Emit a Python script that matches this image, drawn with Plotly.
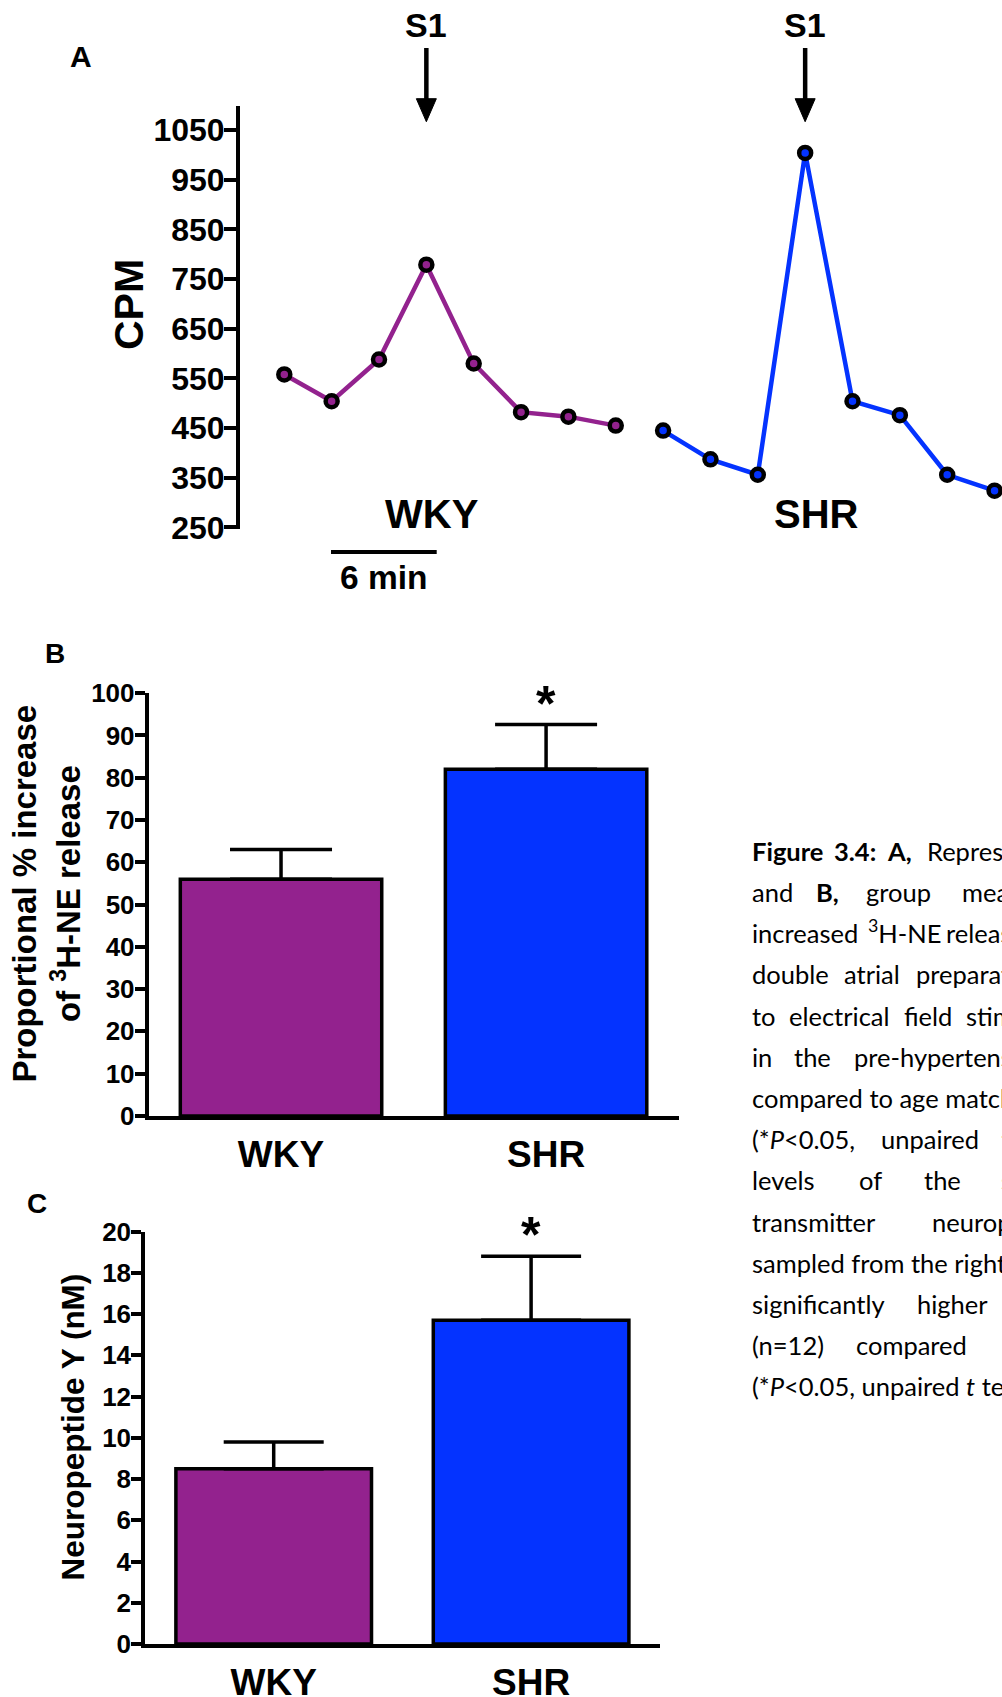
import plotly.graph_objects as go

W, H = 1002, 1697


def px(x):
    return x / W


def py(y):
    return 1 - y / H


# ---------------- data ----------------
# Panel A: representative CPM traces (sample index along time)
a_wky_idx = [0, 1, 2, 3, 4, 5, 6, 7]
a_wky_cpm = [558, 504, 588, 779, 580, 482, 473, 455]
a_shr_idx = [8, 9, 10, 11, 12, 13, 14, 15]
a_shr_cpm = [445, 387, 356, 1004, 504, 476, 356, 324]
a_s1_idx = [3, 11]
a_ticks = [250, 350, 450, 550, 650, 750, 850, 950, 1050]

groups = ["WKY", "SHR"]
# Panel B: proportional % increase of 3H-NE release (mean, SEM)
b_mean = [56, 82]
b_sem = [7, 10.6]
b_ticks = [0, 10, 20, 30, 40, 50, 60, 70, 80, 90, 100]
# Panel C: neuropeptide Y (nM) (mean, SEM)
c_mean = [8.5, 15.7]
c_sem = [1.3, 3.1]
c_ticks = [0, 2, 4, 6, 8, 10, 12, 14, 16, 18, 20]

colors = ["#93228E", "#0433FF"]
FONT = "Liberation Sans, Arial, sans-serif"
CAPFONT = "Lato, Calibri, sans-serif"

fig = go.Figure()

# ---------------- panel A ----------------
for idx, cpm, col in [(a_wky_idx, a_wky_cpm, colors[0]), (a_shr_idx, a_shr_cpm, colors[1])]:
    fig.add_trace(go.Scatter(
        x=idx, y=cpm, mode="lines+markers",
        line=dict(color=col, width=4.5),
        marker=dict(size=12, color=col, line=dict(color="black", width=4.5)),
        xaxis="x", yaxis="y", showlegend=False, cliponaxis=False,
    ))

# ---------------- panel B ----------------
fig.add_trace(go.Bar(
    x=groups, y=b_mean, width=0.76,
    marker=dict(color=colors, line=dict(color="black", width=3.5)),
    error_y=dict(type="data", array=b_sem, arrayminus=[0, 0], symmetric=False,
                 color="black", thickness=3.5, width=51),
    xaxis="x2", yaxis="y2", showlegend=False,
))

# ---------------- panel C ----------------
fig.add_trace(go.Bar(
    x=groups, y=c_mean, width=0.76,
    marker=dict(color=colors, line=dict(color="black", width=3.5)),
    error_y=dict(type="data", array=c_sem, arrayminus=[0, 0], symmetric=False,
                 color="black", thickness=3.5, width=50),
    xaxis="x3", yaxis="y3", showlegend=False,
))

# A axes: index 0 at 284.3 px, 47.35 px per sample
a_x0 = -(284.3 - 238) / 47.35
a_x1 = (1002 - 284.3) / 47.35
a_sc = 397.3 / 800.0
a_y0 = 1050 - (529 - 130.1) / a_sc
a_y1 = 1050 + (130.1 - 106.4) / a_sc

tickfont_a = dict(family=FONT, size=32, color="black", weight="bold")
tickfont_bc = dict(family=FONT, size=26, color="black", weight="bold")
catfont = dict(family=FONT, size=37, color="black", weight="bold")

fig.update_layout(
    width=W, height=H, margin=dict(l=0, r=0, t=0, b=0, autoexpand=False),
    paper_bgcolor="white", plot_bgcolor="rgba(0,0,0,0)",
    showlegend=False,
    xaxis=dict(domain=[px(238), 1.0], range=[a_x0, a_x1], visible=False, automargin=False),
    yaxis=dict(domain=[py(529), py(106.4)], range=[a_y0, a_y1], anchor="free", position=px(238),
               showline=True, linecolor="black", linewidth=4, ticks="outside", ticklen=12,
               tickwidth=4, tickcolor="black", tickvals=a_ticks, tickfont=tickfont_a,
               showgrid=False, zeroline=False, automargin=False, ticklabelstandoff=-7),
    xaxis2=dict(domain=[px(148.5), px(678.6)], range=[-0.5, 1.5], anchor="y2",
                showline=True, linecolor="black", linewidth=3.5, ticks="", ticklen=0,
                tickfont=catfont, showgrid=False, zeroline=False, ticklabelstandoff=3,
                automargin=False),
    yaxis2=dict(domain=[py(1115.9), py(693.2)], range=[0, 100], anchor="x2",
                showline=True, linecolor="black", linewidth=3.5, ticks="outside", ticklen=10,
                tickwidth=3.5, tickcolor="black", tickvals=b_ticks, tickfont=tickfont_bc,
                showgrid=False, zeroline=False, automargin=False, ticklabelstandoff=-5),
    xaxis3=dict(domain=[px(145), px(659.8)], range=[-0.5, 1.5], anchor="y3",
                showline=True, linecolor="black", linewidth=3.5, ticks="", ticklen=0,
                tickfont=catfont, showgrid=False, zeroline=False, ticklabelstandoff=3,
                automargin=False),
    yaxis3=dict(domain=[py(1644), py(1231.5)], range=[0, 20], anchor="x3",
                showline=True, linecolor="black", linewidth=3.5, ticks="outside", ticklen=10,
                tickwidth=3.5, tickcolor="black", tickvals=c_ticks, tickfont=tickfont_bc,
                showgrid=False, zeroline=False, automargin=False, ticklabelstandoff=-5),
)

# ---------------- shapes: S1 arrows + scale bar ----------------
shapes = []
hw = 10 / 47.35
for xi in a_s1_idx:
    shapes.append(dict(type="line", xref="x", yref="paper", x0=xi, x1=xi,
                       y0=py(48), y1=py(101), line=dict(color="black", width=4.5)))
    shapes.append(dict(type="path", xref="x", yref="paper",
                       path=f"M {xi - hw},{py(98.7)} L {xi + hw},{py(98.7)} L {xi},{py(121.7)} Z",
                       fillcolor="black", line=dict(color="black", width=1)))
shapes.append(dict(type="line", xref="paper", yref="paper", x0=px(331), x1=px(436.7),
                   y0=py(552), y1=py(552), line=dict(color="black", width=4)))
fig.update_layout(shapes=shapes)

# ---------------- annotations ----------------
ann = []


def txt(text, x, y, size, bold=True, angle=0, family=FONT, xanchor="center", yanchor="middle", xref="paper"):
    ann.append(dict(text=text, x=x, y=y, xref=xref, yref="paper", showarrow=False,
                    xanchor=xanchor, yanchor=yanchor, textangle=angle,
                    font=dict(family=family, size=size, color="black",
                              weight="bold" if bold else "normal")))


# panel A texts
txt("A", px(81), py(56.5), 30)
for xi in a_s1_idx:
    txt("S1", xi, py(24.5), 34, xref="x")
txt("CPM", px(129), py(305), 41, angle=-90)
txt("WKY", px(431.7), py(513.5), 40)
txt("SHR", px(816.3), py(513.5), 40)
txt("6 min", px(384), py(578), 33.5)

# panel B texts
txt("B", px(54.5), py(653.5), 28)
txt("*", 1, py(704), 50, xref="x2")
txt("Proportional % increase", px(23.6), py(894), 33, angle=-90)
txt("of <sup>3</sup>H-NE release", px(66), py(894), 33, angle=-90)

# panel C texts
txt("C", px(37), py(1203.5), 28)
txt("*", 1, py(1234.5), 50, xref="x3")
txt("Neuropeptide Y (nM)", px(72.5), py(1427), 31.5, angle=-90)

# caption: justified lines placed word by word, plain lines as one string
cap_lines = [
    [("<b>Figure</b>", 750.3), ("<b>3.4:</b>", 832), ("<b>A,</b>", 885), ("Representative", 925.3)],
    [("and", 750.3), ("<b>B,</b>", 813.7), ("group", 863.7), ("mean", 960.3)],
    [("increased", 750.3), ("<sup>3</sup>H-NE", 866), ("release", 944)],
    [("double", 750.3), ("atrial", 842), ("preparations", 913.7)],
    [("to", 750.3), ("electrical", 787), ("field", 902), ("stimulation", 964)],
    [("in", 750.3), ("the", 792), ("pre-hypertensive", 852)],
    [("compared to age matched", 750.3)],
    [("(*<i>P</i>&lt;0.05,", 750.3), ("unpaired", 878.7), ("<i>t</i>", 998.7)],
    [("levels", 750.3), ("of", 857), ("the", 922), ("sympathetic", 998.7)],
    [("transmitter", 750.3), ("neuropeptide", 930.3)],
    [("sampled from the right", 750.3)],
    [("significantly", 750.3), ("higher", 915.3)],
    [("(n=12)", 750.3), ("compared", 853.7), ("to", 1000)],
    [("(*<i>P</i>&lt;0.05, unpaired <i>t</i> test", 750.3)],
]
for k, line in enumerate(cap_lines):
    base = 861.2 + 41.2 * k
    for word, x in line:
        txt(word, px(x), py(base + 6.5), 25.5, bold=False, family=CAPFONT,
            xanchor="left", yanchor="bottom")

fig.update_layout(annotations=ann)

fig.write_html("out.html", config={"displayModeBar": False},
               post_script="document.body.style.margin='0';document.body.style.overflow='hidden';")
